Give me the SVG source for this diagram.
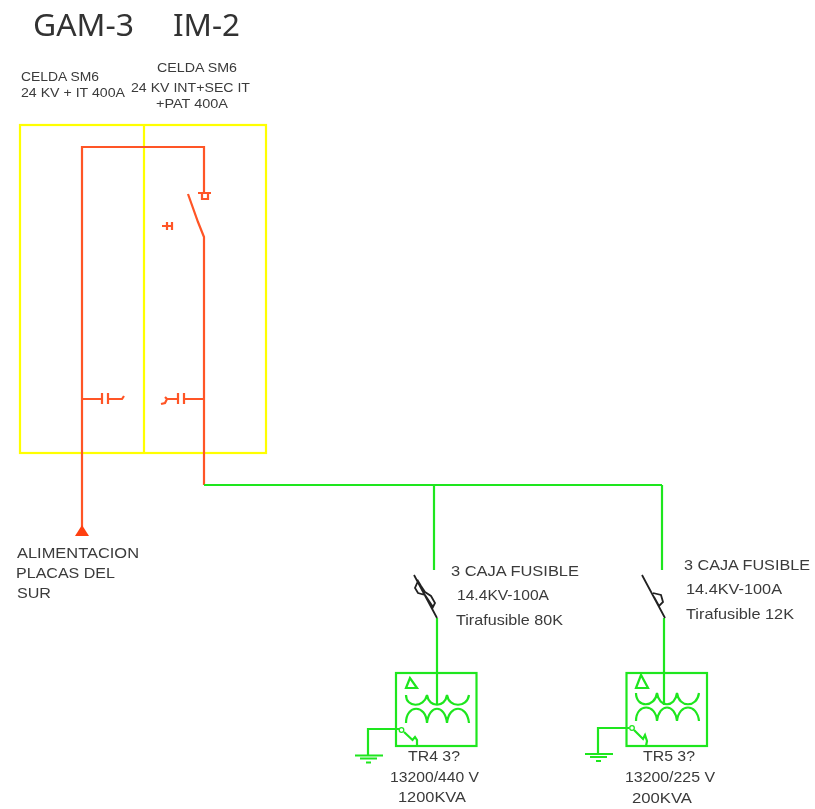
<svg xmlns="http://www.w3.org/2000/svg" width="815" height="809" viewBox="0 0 815 809">
<style>
.y{fill:none;stroke:#ffff00;stroke-width:2.200}
.r{fill:none;stroke:#ff5526;stroke-width:2.200}
.g{fill:none;stroke:#1ee61e;stroke-width:2.200}
.k{fill:none;stroke:#222;stroke-width:1.800}
text{font-family:"Liberation Sans",Arial,sans-serif;font-size:15px;fill:#3a3a3a;filter:url(#soft)}
.s{font-size:13px}
.t{font-family:"Noto Sans",sans-serif;font-size:30px;fill:#333}
</style>
<defs>
<filter id="soft" x="-5%" y="-20%" width="110%" height="140%"><feGaussianBlur stdDeviation="0.4"/></filter>
</defs>
<rect width="815" height="809" fill="#fff"/>
<g id="cells">
<rect class="y" x="20" y="125" width="246" height="328"/>
<path class="y" d="M144 125V453"/>
</g>
<g id="connectors">
<path class="r" d="M82 527V147H204V193"/>
<path class="r" d="M188 194L198 222L204 237V485"/>
<path class="g" d="M204 485H662M434 485V570M662 485V570M437 618V705M664 618V705"/>
</g>
<g id="title">
<text class="t" x="33" y="36" textLength="101" lengthAdjust="spacingAndGlyphs">GAM-3</text>
<text class="t" x="173" y="36" textLength="67" lengthAdjust="spacingAndGlyphs">IM-2</text>
</g>
<g id="cell-labels">
<text class="s" x="21" y="81" textLength="78" lengthAdjust="spacingAndGlyphs">CELDA SM6</text>
<text class="s" x="21" y="97" textLength="104" lengthAdjust="spacingAndGlyphs">24 KV + IT 400A</text>
<text class="s" x="157" y="72" textLength="80" lengthAdjust="spacingAndGlyphs">CELDA SM6</text>
<text class="s" x="131" y="92" textLength="119" lengthAdjust="spacingAndGlyphs">24 KV INT+SEC IT</text>
<text class="s" x="156" y="108" textLength="72" lengthAdjust="spacingAndGlyphs">+PAT 400A</text>
</g>
<g id="switch">
<path class="r" d="M198 193H211M202 193V199H208V193"/>
<path class="r" d="M162 226H172M167 222V230M172 222V230"/>
</g>
<g id="capacitor-left">
<path class="r" d="M82 399H102M102 393V404M108 393V404M108 399H122L124 396"/>
</g>
<g id="capacitor-right">
<path class="r" d="M204 399H184M184 393V404M178 393V404M178 399H167L165 403L161 404M167 399L165 397"/>
</g>
<g id="feed">
<path d="M75 536H89L82 525Z" fill="#ff4010"/>
<text x="17" y="558" textLength="122" lengthAdjust="spacingAndGlyphs">ALIMENTACION</text>
<text x="16" y="578" textLength="99" lengthAdjust="spacingAndGlyphs">PLACAS DEL</text>
<text x="17" y="598" textLength="34" lengthAdjust="spacingAndGlyphs">SUR</text>
</g>
<g id="fuse-1">
<path class="k" d="M414 575L437 618M418 581L415 588L418 593L425 595L429 601L433 607L435 603L431 596L425 592L421 586Z"/>
<text x="451" y="576" textLength="128" lengthAdjust="spacingAndGlyphs">3 CAJA FUSIBLE</text>
<text x="457" y="600" textLength="92" lengthAdjust="spacingAndGlyphs">14.4KV-100A</text>
<text x="456" y="625" textLength="107" lengthAdjust="spacingAndGlyphs">Tirafusible 80K</text>
</g>
<g id="fuse-2">
<path class="k" d="M642 575L665 618M653 593L661 595L663 602L659 606L654 597"/>
<text x="684" y="570" textLength="126" lengthAdjust="spacingAndGlyphs">3 CAJA FUSIBLE</text>
<text x="686" y="594" textLength="96" lengthAdjust="spacingAndGlyphs">14.4KV-100A</text>
<text x="686" y="619" textLength="108" lengthAdjust="spacingAndGlyphs">Tirafusible 12K</text>
</g>
<g id="tr4">
<rect class="g" x="396" y="673" width="80.500" height="73"/>
<path class="g" d="M410 678L406 688H417Z"/>
<path class="g" d="M406 695C406 708 424 708 427 695C429 708 445 708 447 695C449 708 467 708 469 695"/>
<path class="g" d="M406 723C406 704 426 704 427 723C429 704 445 704 447 723C449 704 467 704 469 723"/>
<circle class="g" cx="401.500" cy="730" r="2.300" style="stroke-width:1.300"/>
<path class="g" d="M399 729H368V755M404 732L412.500 740L415 737L417 740V746"/>
<path class="g" d="M355 755.500H383M360 758.500H377M366 762.500H371"/>
<text x="408" y="761" textLength="52" lengthAdjust="spacingAndGlyphs">TR4 3?</text>
<text x="390" y="782" textLength="89" lengthAdjust="spacingAndGlyphs">13200/440 V</text>
<text x="398" y="802" textLength="68" lengthAdjust="spacingAndGlyphs">1200KVA</text>
</g>
<g id="tr5">
<rect class="g" x="626.500" y="673" width="80.500" height="73"/>
<path class="g" d="M641 675L636 688H648Z"/>
<path class="g" d="M636 693C636 708 655 708 657 693C659 708 675 708 677 693C679 708 697 708 699 693"/>
<path class="g" d="M636 721C636 703 656 703 657 721C659 703 675 703 677 721C679 703 697 703 699 721"/>
<circle class="g" cx="632" cy="728" r="2.300" style="stroke-width:1.300"/>
<path class="g" d="M629 728H598V754M634 730L643 739L645 735L647 741L646 746"/>
<path class="g" d="M585 754H613M590 757H607M596 761H601"/>
<text x="643" y="761" textLength="52" lengthAdjust="spacingAndGlyphs">TR5 3?</text>
<text x="625" y="782" textLength="90" lengthAdjust="spacingAndGlyphs">13200/225 V</text>
<text x="632" y="803" textLength="60" lengthAdjust="spacingAndGlyphs">200KVA</text>
</g>
</svg>
